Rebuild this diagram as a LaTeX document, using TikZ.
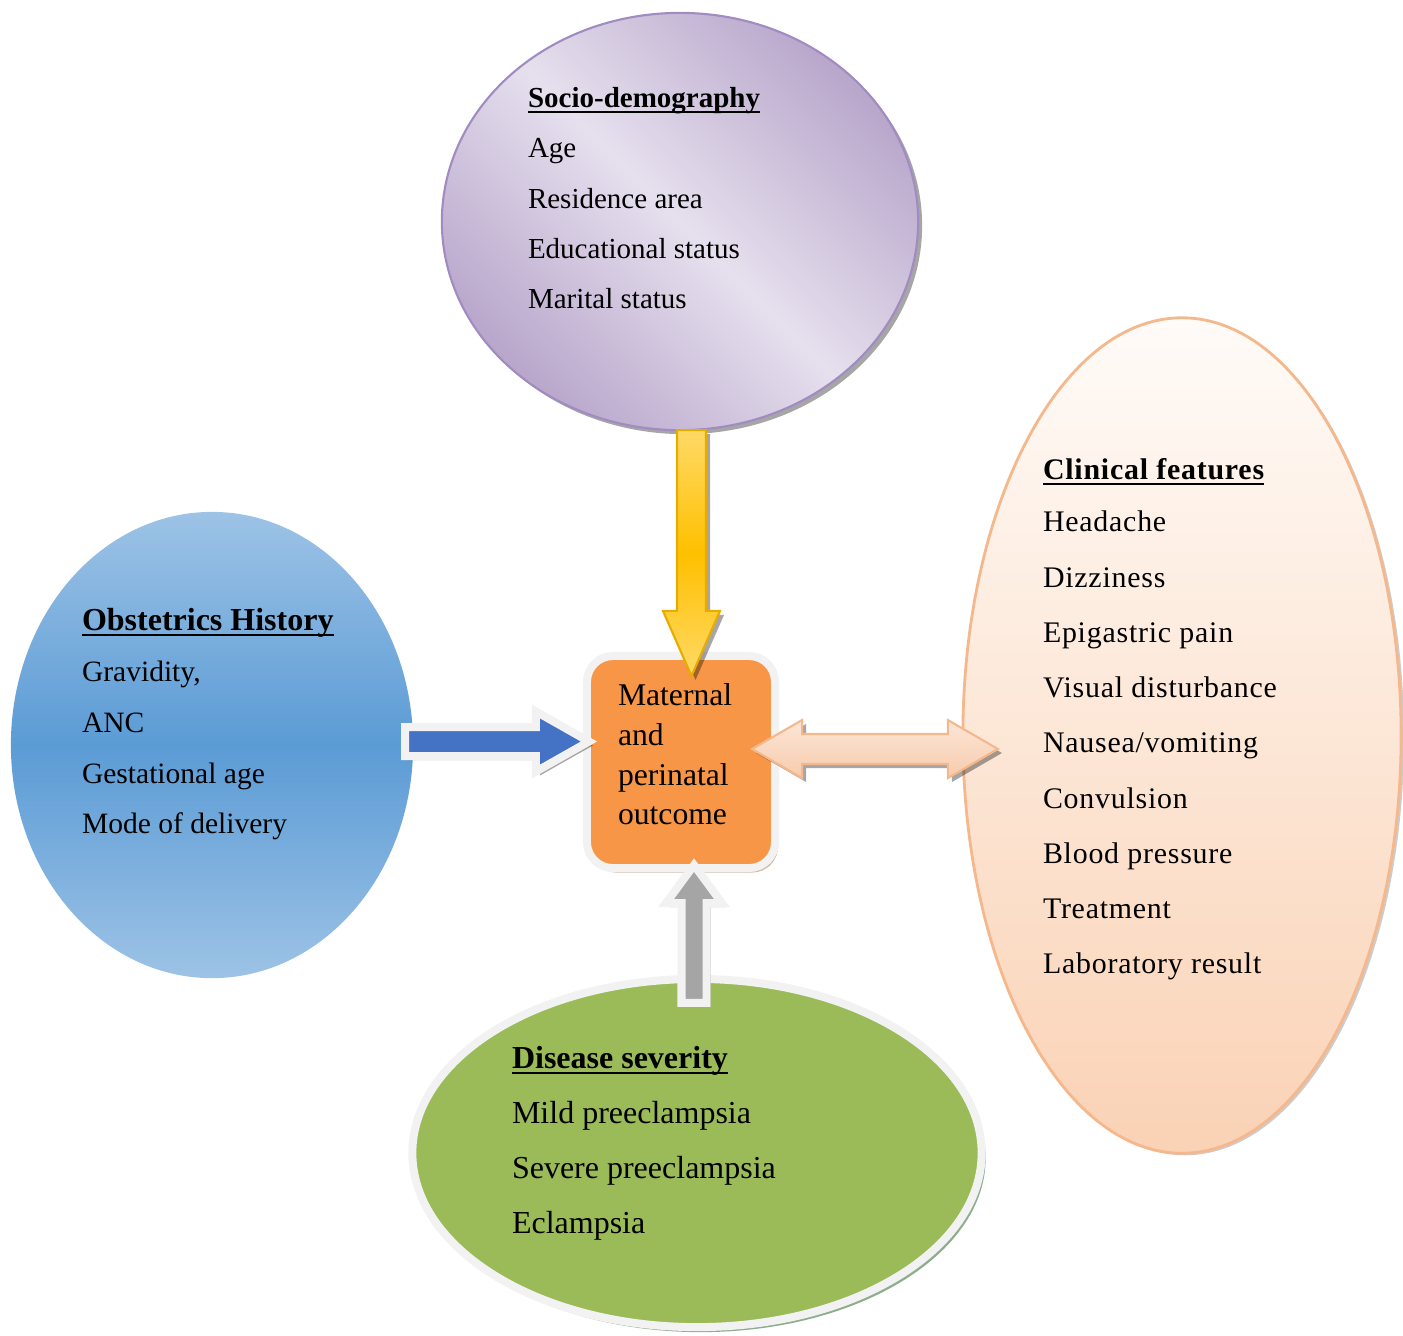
\documentclass[tikz,border=0pt]{standalone}
\usepackage{fontspec}
\setmainfont{Liberation Serif}
\newfontfamily\spacedfont[LetterSpace=2.6]{Liberation Serif}
\usetikzlibrary{shapes.geometric, shadows, calc}

\definecolor{purpDark}{HTML}{B8A6CB}
\definecolor{purpLight}{HTML}{E6E0EE}
\definecolor{purpEdge}{HTML}{A08CC0}
\definecolor{blueLight}{HTML}{9DC3E6}
\definecolor{blueMid}{HTML}{5B9BD5}
\definecolor{peachTop}{HTML}{FFFBF8}
\definecolor{peachBot}{HTML}{FAD2B5}
\definecolor{peachEdge}{HTML}{F5B88C}
\definecolor{leafGreen}{HTML}{9BBB59}
\definecolor{boxOrange}{HTML}{F79646}
\definecolor{rimWhite}{HTML}{F2F2F2}
\definecolor{goldLight}{HTML}{FFD966}
\definecolor{goldDark}{HTML}{FFC000}
\definecolor{goldEdge}{HTML}{E6AC00}
\definecolor{arrowBlue}{HTML}{4472C4}
\definecolor{arrowGray}{HTML}{A5A5A5}
\definecolor{peachArrowTop}{HTML}{FCE6D8}
\definecolor{peachArrowBot}{HTML}{F7CBAC}

\newcommand{\ulhead}[1]{\setbox0\hbox{\bfseries #1}\rlap{\rule[-0.19em]{\wd0}{0.06em}}\box0}

\tikzset{
  shaftw/.store in=\shaftw, headw/.store in=\headw, headl/.store in=\headl,
  shaftw=0.145cm, headw=0.285cm, headl=0.6cm,
  blockarrow/.style={to path={
    let \p1=(\tikztostart), \p2=(\tikztotarget),
        \n1={atan2(\y2-\y1,\x2-\x1)}, \n2={veclen(\x2-\x1,\y2-\y1)}
    in ($(\p1)+(\n1+90:\shaftw)$)
    -- ($(\p1)+(\n1:\n2-\headl)+(\n1+90:\shaftw)$)
    -- ($(\p1)+(\n1:\n2-\headl)+(\n1+90:\headw)$)
    -- (\p2)
    -- ($(\p1)+(\n1:\n2-\headl)+(\n1-90:\headw)$)
    -- ($(\p1)+(\n1:\n2-\headl)+(\n1-90:\shaftw)$)
    -- ($(\p1)+(\n1-90:\shaftw)$) -- cycle}},
  twinarrow/.style={to path={
    let \p1=(\tikztostart), \p2=(\tikztotarget),
        \n1={atan2(\y2-\y1,\x2-\x1)}, \n2={veclen(\x2-\x1,\y2-\y1)}
    in ($(\p1)+(\n1:\headl)+(\n1+90:\shaftw)$)
    -- ($(\p1)+(\n1:\n2-\headl)+(\n1+90:\shaftw)$)
    -- ($(\p1)+(\n1:\n2-\headl)+(\n1+90:\headw)$)
    -- (\p2)
    -- ($(\p1)+(\n1:\n2-\headl)+(\n1-90:\headw)$)
    -- ($(\p1)+(\n1:\n2-\headl)+(\n1-90:\shaftw)$)
    -- ($(\p1)+(\n1:\headl)+(\n1-90:\shaftw)$)
    -- ($(\p1)+(\n1:\headl)+(\n1-90:\headw)$)
    -- (\p1)
    -- ($(\p1)+(\n1:\headl)+(\n1+90:\headw)$) -- cycle}}
}

\begin{document}
\begin{tikzpicture}[
			x=0.01cm, y=-0.01cm,
			entry/.style={anchor=base west, inner sep=0pt, outer sep=0pt},
			socioitem/.style={entry, font=\fontsize{8.25}{10}\selectfont},
			obstitem/.style={entry, font=\fontsize{8.4}{10}\selectfont},
			clinitem/.style={entry, font=\spacedfont\fontsize{8.5}{10}\selectfont},
			sevitem/.style={entry, font=\fontsize{9.1}{11}\selectfont},
			outitem/.style={entry, font=\fontsize{9}{11}\selectfont},
			softshadow/.style={drop shadow={shadow xshift=0.04cm, shadow yshift=-0.04cm, opacity=0.35, fill=black}}
			]
			\useasboundingbox (0,0) rectangle (1403,1335);
			
			% Factor circles
			\node[ellipse, outer sep=0pt, minimum width=4.76cm, minimum height=4.17cm,
				draw=purpEdge, line width=0.6pt, softshadow,
				top color=purpDark, bottom color=purpDark, middle color=purpLight, shading angle=-45] (socio) at (680,221.5) {};
			\node[ellipse, outer sep=0pt, minimum width=4.02cm, minimum height=4.66cm,
				top color=blueLight, bottom color=blueLight, middle color=blueMid] (obst) at (212,745) {};
			\node[ellipse, outer sep=0pt, minimum width=4.38cm, minimum height=8.35cm,
				draw=peachEdge, line width=0.8pt, drop shadow={shadow xshift=0.03cm, shadow yshift=-0.02cm, opacity=0.2, fill=black},
				top color=peachTop, bottom color=peachBot] (clinical) at (1182,735.5) {};
			\node[ellipse, outer sep=0pt, minimum width=5.69cm, minimum height=3.48cm,
				fill=leafGreen, draw=rimWhite, line width=0.08cm,
				drop shadow={shadow xshift=0.04cm, shadow yshift=-0.05cm, opacity=0.45, fill=black!70!green}] (severity) at (697,1153) {};
			
			% Socio-demography
			\node[socioitem] (s0) at (528,107) {\ulhead{Socio-demography}};
			\node[socioitem] (s1) at (528,157) {Age};
			\node[socioitem] (s2) at (528,208) {Residence area};
			\node[socioitem] (s3) at (528,258) {Educational status};
			\node[socioitem] (s4) at (528,308) {Marital status};
			
			% Obstetrics history
			\node[obstitem, font=\fontsize{9.1}{11}\selectfont] (o0) at (82,630) {\ulhead{Obstetrics History}};
			\node[obstitem] (o1) at (82,681) {Gravidity,};
			\node[obstitem] (o2) at (82,732) {ANC};
			\node[obstitem] (o3) at (82,783) {Gestational age};
			\node[obstitem] (o4) at (82,833) {Mode of delivery};
			
			% Clinical features
			\node[clinitem] (c0) at (1043,479) {\ulhead{Clinical features}};
			\node[clinitem] (c1) at (1043,531) {Headache};
			\node[clinitem] (c2) at (1043,587) {Dizziness};
			\node[clinitem] (c3) at (1043,642) {Epigastric pain};
			\node[clinitem] (c4) at (1043,697) {Visual disturbance};
			\node[clinitem] (c5) at (1043,752) {Nausea/vomiting};
			\node[clinitem] (c6) at (1043,808) {Convulsion};
			\node[clinitem] (c7) at (1043,863) {Blood pressure};
			\node[clinitem] (c8) at (1043,918) {Treatment};
			\node[clinitem] (c9) at (1043,973) {Laboratory result};
			
			% Disease severity
			\node[sevitem] (d0) at (512,1068) {\ulhead{Disease severity}};
			\node[sevitem] (d1) at (512,1123) {Mild preeclampsia};
			\node[sevitem] (d2) at (512,1178) {Severe preeclampsia};
			\node[sevitem] (d3) at (512,1233) {Eclampsia};
			
			% Outcome box
			\node[rectangle, rounded corners=0.26cm, outer sep=0pt, minimum width=1.88cm, minimum height=2.12cm,
				fill=boxOrange, draw=rimWhite, line width=0.08cm,
				drop shadow={shadow xshift=0.03cm, shadow yshift=-0.045cm, opacity=0.45, fill=brown!80!black}] (outcome) at (681,762) {};
			\node[outitem] (m1) at (618,705) {Maternal};
			\node[outitem] (m2) at (618,745) {and};
			\node[outitem] (m3) at (618,785) {perinatal};
			\node[outitem] (m4) at (618,824) {outcome};
			
			% Block arrows
			\path[blockarrow, shaftw=0.145cm, headw=0.285cm, headl=0.65cm,
				draw=goldEdge, line width=0.6pt, softshadow,
				top color=goldLight, bottom color=goldLight, middle color=goldDark]
				([xshift=0.115cm]socio.south) to ([xshift=0.105cm, yshift=-0.2cm]outcome.north);
			\path[blockarrow, shaftw=0.145cm, headw=0.30cm, headl=0.53cm,
				draw=rimWhite, line width=0.08cm, fill=arrowBlue, softshadow]
				([xshift=-0.08cm, yshift=0.035cm]obst.east) to ([xshift=0.02cm, yshift=0.205cm]outcome.west);
			\path[twinarrow, shaftw=0.15cm, headw=0.29cm, headl=0.5cm,
				draw=peachEdge, line width=0.6pt, softshadow,
				top color=peachArrowTop, bottom color=peachArrowBot]
				([xshift=-0.23cm, yshift=0.13cm]outcome.east) to ([xshift=0.35cm, yshift=-0.135cm]clinical.west);
			\path[blockarrow, shaftw=0.125cm, headw=0.28cm, headl=0.38cm,
				draw=rimWhite, line width=0.08cm, fill=arrowGray, softshadow]
				([xshift=-0.03cm, yshift=-0.24cm]severity.north) to ([xshift=0.13cm, yshift=0.03cm]outcome.south);
		\end{tikzpicture}
\end{document}
